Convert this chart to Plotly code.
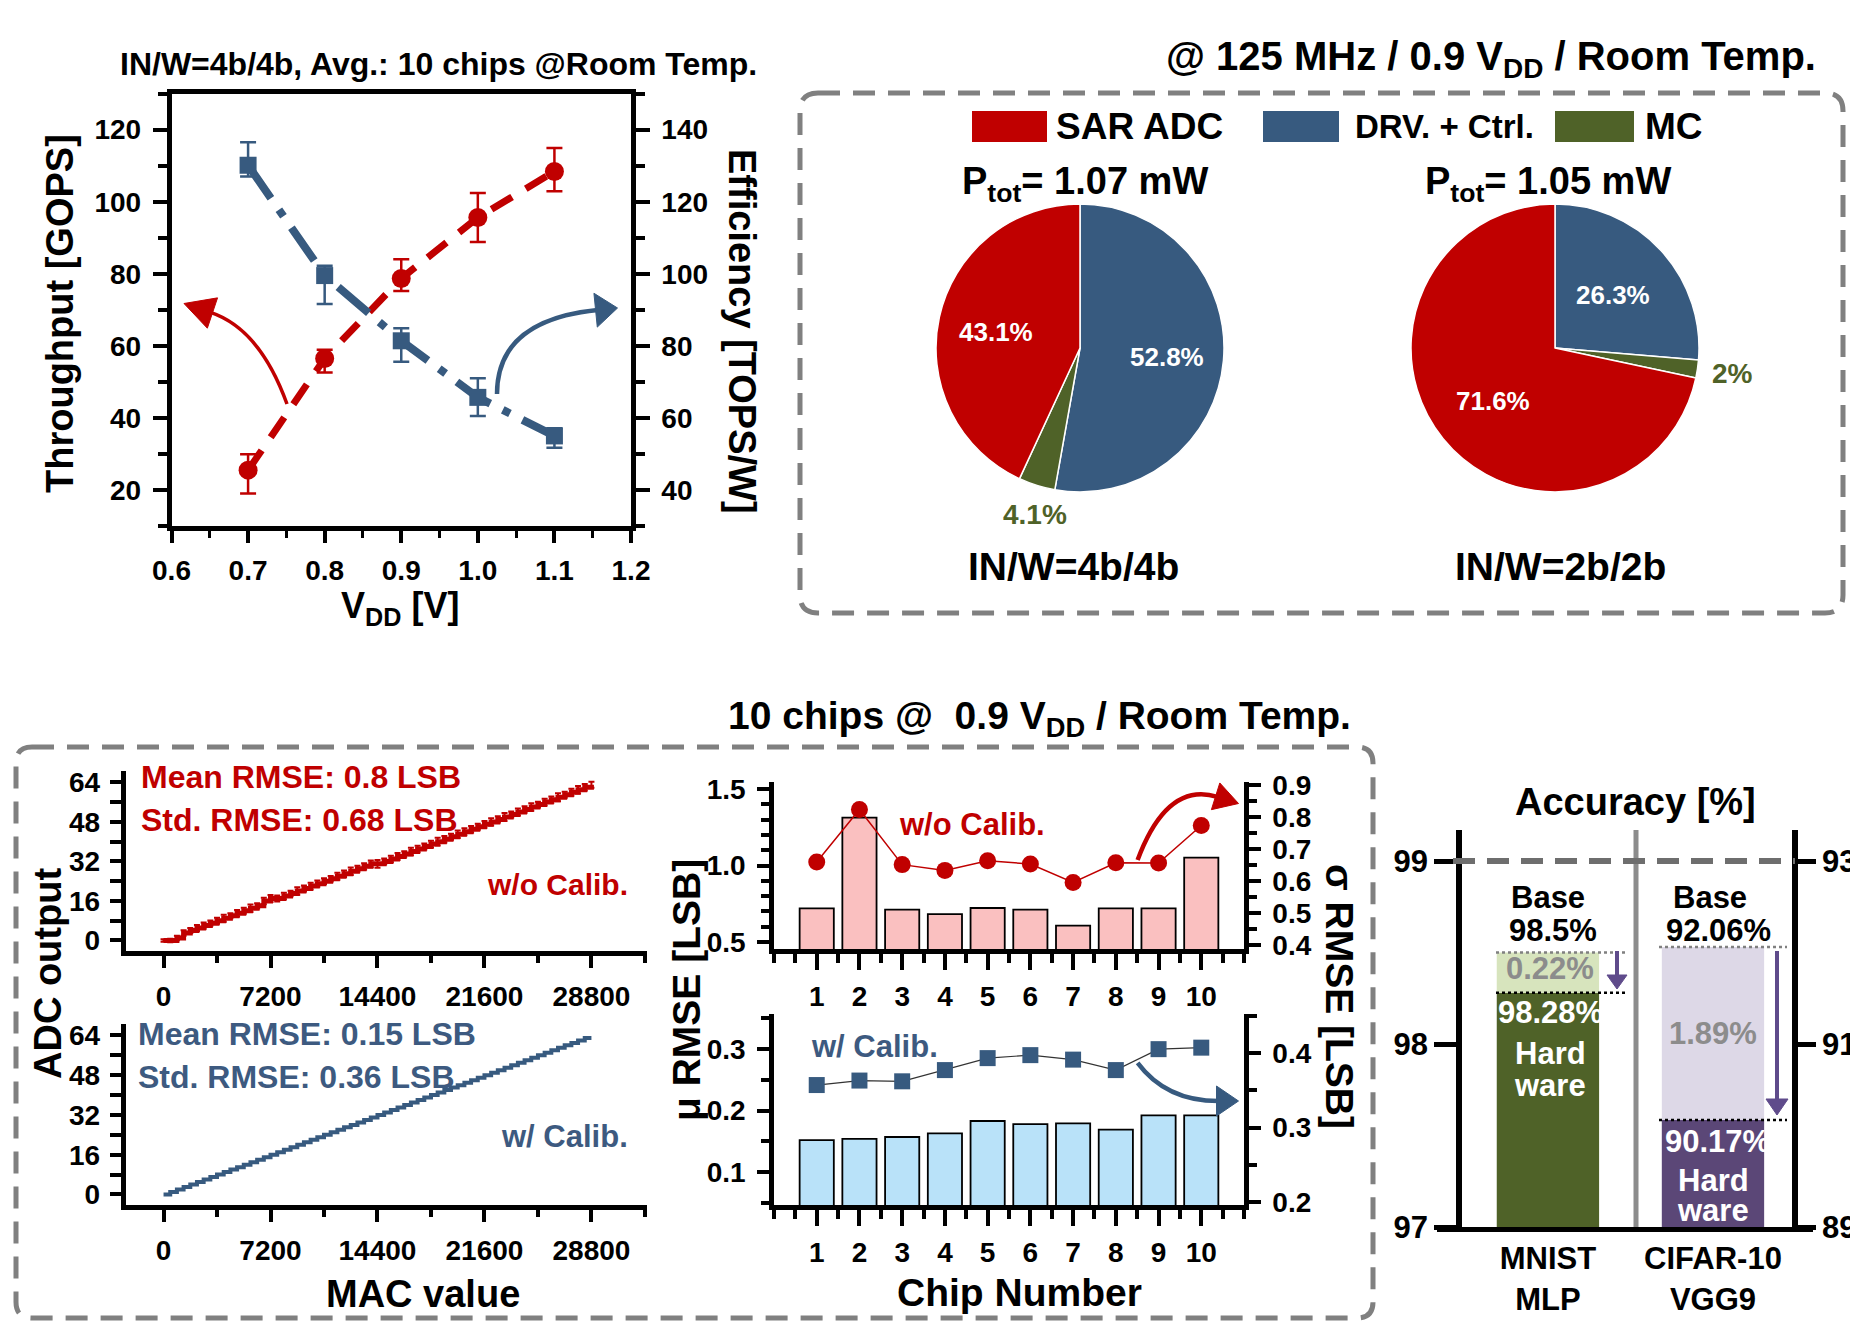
import math
import plotly.graph_objects as go

W, H = 1850, 1322
def px(x): return x / W
def py(y): return 1 - y / H

NARROW = "Liberation Sans, Arial, sans-serif"
REG = "Liberation Sans, Arial, sans-serif"

RED = "#C00000"
BLUE = "#375A7F"
GREEN = "#4F6228"
GRAY = "#808080"
PURPLE = "#5F4B8B"
TBLUE = "#3D5A80"

# ---------------- data ----------------
vdd = [0.7, 0.8, 0.9, 1.0, 1.1]
throughput = [25.5, 56.5, 78.7, 95.6, 108.4]
thr_err_plus = [4.4, 2.4, 5.3, 6.8, 6.5]
thr_err_minus = [6.5, 3.9, 3.5, 6.8, 5.5]
efficiency = [130.1, 99.5, 81.4, 65.7, 55.0]
eff_err_plus = [6.4, 2.7, 3.5, 5.3, 2.1]
eff_err_minus = [3.1, 7.9, 5.8, 5.2, 3.3]

power_labels = ["DRV. + Ctrl.", "MC", "SAR ADC"]
power_4b = [52.8, 4.1, 43.1]
power_2b = [26.3, 2.0, 71.6]

mac = [0, 450, 900, 1350, 1800, 2250, 2700, 3150, 3600, 4050, 4500, 4950, 5400, 5850,
       6300, 6750, 7200, 7650, 8100, 8550, 9000, 9450, 9900, 10350, 10800, 11250, 11700,
       12150, 12600, 13050, 13500, 13950, 14400, 14850, 15300, 15750, 16200, 16650, 17100,
       17550, 18000, 18450, 18900, 19350, 19800, 20250, 20700, 21150, 21600, 22050, 22500,
       22950, 23400, 23850, 24300, 24750, 25200, 25650, 26100, 26550, 27000, 27450, 27900,
       28350, 28800]
adc_wo = [0, 0, 1, 3, 4, 5, 6, 7, 8, 9, 10, 11, 12, 13, 14, 16, 17, 17, 18, 19,
          20, 21, 22, 23, 24, 25, 26, 27, 28, 29, 30, 31, 31, 32, 33, 34, 35, 36, 37, 38,
          39, 40, 41, 42, 43, 44, 45, 46, 47, 48, 49, 50, 51, 52, 53, 54, 55, 56, 57, 58,
          59, 60, 61, 62, 63]
adc_wo_err = [0.5, 0.7, 0.9, 1.1, 1.0, 1.2, 1.3, 1.1, 1.2, 1.4, 1.0, 1.3, 1.2, 1.5, 1.1, 1.3,
              1.4, 1.2, 1.3, 1.1, 1.5, 1.2, 1.4, 1.3, 1.2, 1.1, 1.4, 1.3, 1.5, 1.2, 1.3, 1.4,
              1.6, 1.2, 1.3, 1.4, 1.1, 1.5, 1.3, 1.2, 1.4, 1.6, 1.3, 1.2, 1.5, 1.4, 1.3, 1.2,
              1.4, 1.5, 1.3, 1.6, 1.2, 1.4, 1.3, 1.5, 1.2, 1.4, 1.3, 1.6, 1.2, 1.4, 1.5, 1.3, 1.2]
adc_w = [0, 1, 2, 3, 4, 5, 6, 7, 8, 9, 10, 11, 12, 13, 14, 15, 16, 17, 18, 19,
         20, 21, 22, 23, 24, 25, 26, 27, 28, 29, 30, 31, 32, 33, 34, 35, 36, 37, 38, 39,
         40, 41, 42, 43, 44, 45, 46, 47, 48, 49, 50, 51, 52, 53, 54, 55, 56, 57, 58, 59,
         60, 61, 62, 63, 63]

chips = [1, 2, 3, 4, 5, 6, 7, 8, 9, 10]
mu_wo = [0.719, 1.313, 0.711, 0.682, 0.722, 0.711, 0.607, 0.719, 0.719, 1.051]
sigma_wo = [0.659, 0.823, 0.651, 0.633, 0.663, 0.653, 0.595, 0.657, 0.656, 0.773]
mu_w = [0.152, 0.154, 0.157, 0.163, 0.183, 0.178, 0.179, 0.169, 0.192, 0.192]
sigma_w = [0.357, 0.363, 0.362, 0.377, 0.393, 0.397, 0.391, 0.377, 0.405, 0.407]

datasets = ["MNIST<br>MLP", "CIFAR-10<br>VGG9"]
acc_base = [98.5, 92.06]
acc_hw = [98.28, 90.17]

# ---------------- helpers ----------------
annots = []
shapes = []

def text(t, x, y, size, color="black", family=NARROW, xa="center", ya="middle", angle=0):
    annots.append(dict(text=t, x=px(x), y=py(y), xref="paper", yref="paper",
                       xanchor=xa, yanchor=ya, showarrow=False, textangle=angle,
                       font=dict(family=family, size=size, color=color, weight="bold")))

def pline(x0, y0, x1, y1, color, width, dash="solid"):
    shapes.append(dict(type="line", xref="paper", yref="paper", x0=px(x0), y0=py(y0),
                       x1=px(x1), y1=py(y1), line=dict(color=color, width=width, dash=dash)))

def rrect(x0, y0, x1, y1, r, color, width, dash):
    p = (f"M {px(x0+r)},{py(y0)} L {px(x1-r)},{py(y0)} Q {px(x1)},{py(y0)} {px(x1)},{py(y0+r)} "
         f"L {px(x1)},{py(y1-r)} Q {px(x1)},{py(y1)} {px(x1-r)},{py(y1)} "
         f"L {px(x0+r)},{py(y1)} Q {px(x0)},{py(y1)} {px(x0)},{py(y1-r)} "
         f"L {px(x0)},{py(y0+r)} Q {px(x0)},{py(y0)} {px(x0+r)},{py(y0)} Z")
    shapes.append(dict(type="path", xref="paper", yref="paper", path=p,
                       line=dict(color=color, width=width, dash=dash), fillcolor="rgba(0,0,0,0)"))

def arrow(p0, pc, tip, color, width, hl, hw):
    ux, uy = tip[0] - pc[0], tip[1] - pc[1]
    n = math.hypot(ux, uy)
    ux, uy = ux / n, uy / n
    bx, by = tip[0] - ux * hl, tip[1] - uy * hl
    path = f"M {px(p0[0])},{py(p0[1])} Q {px(pc[0])},{py(pc[1])} {px(bx + ux*2)},{py(by + uy*2)}"
    shapes.append(dict(type="path", xref="paper", yref="paper", path=path,
                       line=dict(color=color, width=width), fillcolor="rgba(0,0,0,0)"))
    nx, ny = -uy, ux
    h = (f"M {px(tip[0])},{py(tip[1])} L {px(bx + nx*hw/2)},{py(by + ny*hw/2)} "
         f"L {px(bx - nx*hw/2)},{py(by - ny*hw/2)} Z")
    shapes.append(dict(type="path", xref="paper", yref="paper", path=h,
                       line=dict(color=color, width=1), fillcolor=color))

def rect(x0, y0, x1, y1, color):
    shapes.append(dict(type="rect", xref="paper", yref="paper", x0=px(x0), y0=py(y1),
                       x1=px(x1), y1=py(y0), fillcolor=color, line=dict(width=0)))

def ax(**kw):
    d = dict(showline=True, linecolor="black", linewidth=4.5, ticks="outside", tickcolor="black",
             tickwidth=4, ticklen=12, showgrid=False, zeroline=False, fixedrange=True,
             automargin=False,
             tickfont=dict(family=NARROW, size=28, color="black", weight="bold"))
    d.update(kw)
    return d

fig = go.Figure()

# ---------------- top-left: throughput / efficiency ----------------
fig.add_trace(go.Scatter(
    x=vdd, y=throughput, mode="lines+markers", xaxis="x", yaxis="y",
    line=dict(color=RED, width=7, dash="24px,16px"),
    marker=dict(symbol="circle", size=19, color=RED),
    error_y=dict(type="data", symmetric=False, array=thr_err_plus, arrayminus=thr_err_minus,
                 color=RED, thickness=2.5, width=8), hoverinfo="skip"))
fig.add_trace(go.Scatter(
    x=vdd, y=efficiency, mode="lines+markers", xaxis="x", yaxis="y2",
    line=dict(color=BLUE, width=8, dash="40px,14px,8px,14px"),
    marker=dict(symbol="square", size=17, color=BLUE),
    error_y=dict(type="data", symmetric=False, array=eff_err_plus, arrayminus=eff_err_minus,
                 color=BLUE, thickness=2.5, width=8), hoverinfo="skip"))

# ---------------- pies ----------------
pie_colors = [BLUE, GREEN, RED]
for vals, (cx, cy) in [(power_4b, (1080, 348)), (power_2b, (1555, 348))]:
    r = 144
    fig.add_trace(go.Pie(values=vals, labels=power_labels, sort=False, direction="clockwise",
                         rotation=0, textinfo="none", hoverinfo="skip", showlegend=False,
                         marker=dict(colors=pie_colors, line=dict(color="white", width=1.5)),
                         domain=dict(x=[px(cx - r), px(cx + r)], y=[py(cy + r), py(cy - r)])))

# ---------------- ADC transfer ----------------
fig.add_trace(go.Scatter(x=mac, y=adc_wo, mode="lines", xaxis="x2", yaxis="y3",
                         line=dict(color=RED, width=5, shape="hv"),
                         error_y=dict(type="data", array=adc_wo_err, color=RED, thickness=2, width=3),
                         hoverinfo="skip"))
fig.add_trace(go.Scatter(x=mac, y=adc_w, mode="lines", xaxis="x3", yaxis="y4",
                         line=dict(color=BLUE, width=4, shape="hv"), hoverinfo="skip"))

# ---------------- RMSE per chip ----------------
fig.add_trace(go.Bar(x=chips, y=mu_wo, width=0.8, xaxis="x4", yaxis="y5",
                     marker=dict(color="#FAC0C0", line=dict(color="black", width=1.8)), hoverinfo="skip"))
fig.add_trace(go.Scatter(x=chips, y=sigma_wo, mode="lines+markers", xaxis="x4", yaxis="y6",
                         line=dict(color=RED, width=1.5), marker=dict(size=17, color=RED), hoverinfo="skip"))
fig.add_trace(go.Bar(x=chips, y=mu_w, width=0.8, xaxis="x5", yaxis="y7",
                     marker=dict(color="#B9E2F9", line=dict(color="black", width=1.8)), hoverinfo="skip"))
fig.add_trace(go.Scatter(x=chips, y=sigma_w, mode="lines+markers", xaxis="x5", yaxis="y8",
                         line=dict(color="#333333", width=1.2),
                         marker=dict(symbol="square", size=16, color=BLUE), hoverinfo="skip"))

# ---------------- accuracy ----------------
fig.add_trace(go.Bar(x=[datasets[0]], y=[acc_hw[0]], width=0.62, xaxis="x6", yaxis="y9",
                     marker=dict(color=GREEN, line=dict(width=0)), hoverinfo="skip"))
fig.add_trace(go.Bar(x=[datasets[0]], y=[acc_base[0] - acc_hw[0]], base=[acc_hw[0]], width=0.62,
                     xaxis="x6", yaxis="y9", marker=dict(color="#D7E4BD", line=dict(width=0)),
                     hoverinfo="skip"))
fig.add_trace(go.Bar(x=[datasets[1]], y=[acc_hw[1]], width=0.62, xaxis="x6", yaxis="y10",
                     marker=dict(color="#5B4777", line=dict(width=0)), hoverinfo="skip"))
fig.add_trace(go.Bar(x=[datasets[1]], y=[acc_base[1] - acc_hw[1]], base=[acc_hw[1]], width=0.62,
                     xaxis="x6", yaxis="y10", marker=dict(color="#DDD8E7", line=dict(width=0)),
                     hoverinfo="skip"))

# ---------------- axes ----------------
half_ticks = [0, 0.5, 1.5, 2.5, 3.5, 4.5, 5.5, 6.5, 7.5, 8.5, 9.5, 10.5, 11]
layout = dict(
    width=W, height=H, margin=dict(l=0, r=0, t=0, b=0, pad=0, autoexpand=False), autosize=False,
    paper_bgcolor="white", plot_bgcolor="white", showlegend=False, barmode="overlay",
    # top-left
    xaxis=ax(domain=[px(171.5), px(631)], range=[0.6, 1.2], anchor="y", mirror=True,
             tick0=0.6, dtick=0.1, tickformat=".1f", ticklabelstandoff=4,
             minor=dict(ticks="outside", ticklen=7, tickwidth=3, dtick=0.05, tick0=0.6)),
    yaxis=ax(domain=[py(526), py(93.6)], range=[10, 130], anchor="x", tick0=0, dtick=20,
             ticklen=14, ticklabelstandoff=6,
             minor=dict(ticks="outside", ticklen=9, tickwidth=3.5, dtick=10, tick0=0)),
    yaxis2=ax(domain=[py(526), py(93.6)], range=[30, 150], anchor="x", overlaying="y", side="right",
              tick0=0, dtick=20, ticklen=14, ticklabelstandoff=6,
              minor=dict(ticks="outside", ticklen=9, tickwidth=3.5, dtick=10, tick0=0)),
    # ADC top
    xaxis2=ax(domain=[px(125.5), px(647)], range=[-2560, 32540], anchor="y3", tick0=0, dtick=7200,
              tickformat="d", ticklen=12, ticklabelstandoff=4,
              minor=dict(ticks="outside", ticklen=7, tickwidth=3.5, dtick=3600, tick0=0)),
    yaxis3=ax(domain=[py(951.3), py(771)], range=[-4.4, 68.6], anchor="x2", tick0=0, dtick=16,
              ticklen=11, ticklabelstandoff=4,
              minor=dict(ticks="outside", ticklen=11, tickwidth=3.5, dtick=8, tick0=0)),
    # ADC bottom
    xaxis3=ax(domain=[px(125.5), px(647)], range=[-2560, 32540], anchor="y4", tick0=0, dtick=7200,
              tickformat="d", ticklen=12, ticklabelstandoff=4,
              minor=dict(ticks="outside", ticklen=7, tickwidth=3.5, dtick=3600, tick0=0)),
    yaxis4=ax(domain=[py(1205.4), py(1024)], range=[-4.4, 68.6], anchor="x3", tick0=0, dtick=16,
              ticklen=11, ticklabelstandoff=4,
              minor=dict(ticks="outside", ticklen=11, tickwidth=3.5, dtick=8, tick0=0)),
    # RMSE top
    xaxis4=ax(domain=[px(774), px(1244)], range=[0, 11], anchor="y5", tickvals=chips,
              ticktext=[str(c) for c in chips], ticklen=16, ticklabelstandoff=3,
              minor=dict(ticks="outside", ticklen=9, tickwidth=4, tickvals=half_ticks)),
    yaxis5=ax(domain=[py(949), py(782)], range=[0.454, 1.546], anchor="x4",
              tickvals=[0.5, 1.0, 1.5], ticktext=["0.5", "1.0", "1.5"], ticklen=12, ticklabelstandoff=6,
              minor=dict(ticks="outside", ticklen=8, tickwidth=3.5, dtick=0.1, tick0=0)),
    yaxis6=ax(domain=[py(949), py(782)], range=[0.3875, 0.909], anchor="x4", overlaying="y5",
              side="right", tickvals=[0.4, 0.5, 0.6, 0.7, 0.8, 0.9],
              ticktext=["0.4", "0.5", "0.6", "0.7", "0.8", "0.9"], ticklen=12, ticklabelstandoff=6,
              minor=dict(ticks="outside", ticklen=8, tickwidth=3.5, dtick=0.05, tick0=0)),
    # RMSE bottom
    xaxis5=ax(domain=[px(774), px(1244)], range=[0, 11], anchor="y7", tickvals=chips,
              ticktext=[str(c) for c in chips], ticklen=16, ticklabelstandoff=3,
              minor=dict(ticks="outside", ticklen=9, tickwidth=4, tickvals=half_ticks)),
    yaxis7=ax(domain=[py(1205), py(1014)], range=[0.0464, 0.357], anchor="x5",
              tickvals=[0.1, 0.2, 0.3], ticktext=["0.1", "0.2", "0.3"], ticklen=12, ticklabelstandoff=6,
              minor=dict(ticks="outside", ticklen=8, tickwidth=3.5, dtick=0.05, tick0=0)),
    yaxis8=ax(domain=[py(1205), py(1014)], range=[0.1966, 0.452], anchor="x5", overlaying="y7",
              side="right", tickvals=[0.2, 0.3, 0.4], ticktext=["0.2", "0.3", "0.4"], ticklen=12,
              ticklabelstandoff=6,
              minor=dict(ticks="outside", ticklen=8, tickwidth=3.5, dtick=0.05, tick0=0)),
    # accuracy
    xaxis6=ax(domain=[px(1437), px(1813)], range=[-0.672, 1.606], anchor="y9", type="category",
              categoryorder="array", categoryarray=datasets, ticks="", linewidth=5,
              ticklabelstandoff=0, tickfont=dict(family=REG, size=31, color="black", weight="bold")),
    yaxis9=ax(domain=[py(1227), py(830)], range=[97, 99.17], anchor="free", position=px(1459),
              tickvals=[97, 98, 99], ticklen=22, tickwidth=5, linewidth=5.5, ticklabelstandoff=0,
              tickfont=dict(family=REG, size=31, color="black", weight="bold")),
    yaxis10=ax(domain=[py(1227), py(830)], range=[89, 93.34], anchor="free", position=px(1795),
               overlaying="y9", side="right", tickvals=[89, 91, 93], ticklen=18, tickwidth=5,
               linewidth=5.5, ticklabelstandoff=0,
               tickfont=dict(family=REG, size=31, color="black", weight="bold")),
)

# ---------------- decorations & texts ----------------
# top-left
text("IN/W=4b/4b, Avg.: 10 chips @Room Temp.", 438, 64, 32)
text("Throughput [GOPS]", 60, 314, 38, family=REG, angle=-90)
text("Efficiency [TOPS/W]", 742, 331, 38, family=REG, angle=90)
text("V<sub>DD</sub> [V]", 400, 608, 36)
arrow((287, 404), (260, 329), (184, 303.5), RED, 3.5, 30, 32)
arrow((497, 394), (497, 320), (617.5, 308), BLUE, 4.5, 22, 34)

# top-right (power)
text("@ 125 MHz / 0.9 V<sub>DD</sub> / Room Temp.", 1818, 59, 40, xa="right")
rrect(800, 93, 1843, 613, 18, GRAY, 5, "22px,13px")
rect(972, 111, 1047, 142, RED)
rect(1263, 111, 1339, 142, BLUE)
rect(1555, 111, 1634, 142, GREEN)
text("SAR ADC", 1054, 126, 37, xa="left")
text("DRV. + Ctrl.", 1353, 126, 33, xa="left")
text("MC", 1643, 126, 37, xa="left")
text("P<sub>tot</sub>= 1.07 mW", 1085, 184, 38)
text("P<sub>tot</sub>= 1.05 mW", 1548, 184, 38)
text("43.1%", 996, 332, 26, color="white")
text("52.8%", 1167, 357, 26, color="white")
text("4.1%", 1035, 514, 28, color=GREEN)
text("26.3%", 1613, 295, 26, color="white")
text("71.6%", 1493, 401, 26, color="white")
text("2%", 1732, 373, 28, color=GREEN)
text("IN/W=4b/4b", 1073, 566, 39)
text("IN/W=2b/2b", 1560, 566, 39)

# bottom box
text("10 chips @  0.9 V<sub>DD</sub> / Room Temp.", 1039, 718, 39, family=REG)
rrect(16, 747, 1373, 1318, 16, GRAY, 5, "22px,13px")

# ADC
text("Mean RMSE: 0.8 LSB", 139, 777, 32, color=RED, xa="left")
text("Std. RMSE: 0.68 LSB", 139, 820, 32, color=RED, xa="left")
text("w/o Calib.", 630, 884, 30, color=RED, xa="right")
text("Mean RMSE: 0.15 LSB", 136, 1034, 32, color=TBLUE, xa="left")
text("Std. RMSE: 0.36 LSB", 136, 1077, 32, color=TBLUE, xa="left")
text("w/ Calib.", 630, 1136, 31, color=TBLUE, xa="right")
text("ADC output", 48, 974, 38, family=REG, angle=-90)
text("MAC value", 423, 1294, 38, family=REG)

# RMSE
text("w/o Calib.", 972, 824, 31, color=RED)
text("w/ Calib.", 874, 1046, 31, color=TBLUE)
text("μ RMSE [LSB]", 686, 990, 39, family=REG, angle=-90)
text("σ RMSE [LSB]", 1340, 996, 39, family=REG, angle=90)
text("Chip Number", 1019, 1292, 39, family=REG)
arrow((1137.6, 860), (1167, 781), (1238.5, 803.5), RED, 4.5, 24, 28)
arrow((1137.6, 1062.8), (1166, 1101), (1238.5, 1101), BLUE, 4.5, 22, 30)

# accuracy
text("Accuracy [%]", 1635, 802, 38, family=REG)
pline(1636, 830, 1636, 1227, "#8C8C8C", 5)
shapes.append(dict(type="line", xref="paper", yref="y9", x0=px(1453), x1=px(1795), y0=99, y1=99,
                   line=dict(color="#6E6E6E", width=6, dash="22px,12px")))
shapes.append(dict(type="line", xref="paper", yref="y9", x0=px(1496), x1=px(1625),
                   y0=acc_base[0], y1=acc_base[0], line=dict(color=GRAY, width=2.5, dash="dot")))
shapes.append(dict(type="line", xref="paper", yref="y9", x0=px(1496), x1=px(1625),
                   y0=acc_hw[0], y1=acc_hw[0], line=dict(color="black", width=2.5, dash="dot")))
shapes.append(dict(type="line", xref="paper", yref="y10", x0=px(1659), x1=px(1787),
                   y0=acc_base[1], y1=acc_base[1], line=dict(color=GRAY, width=2.5, dash="dot")))
shapes.append(dict(type="line", xref="paper", yref="y10", x0=px(1659), x1=px(1787),
                   y0=acc_hw[1], y1=acc_hw[1], line=dict(color="black", width=2.5, dash="dot")))
arrow((1617, 951), (1617, 970), (1617, 989), PURPLE, 4, 14, 20)
arrow((1777, 951), (1777, 1030), (1777, 1115), PURPLE, 4, 16, 22)
text("Base", 1548, 897, 31, family=REG)
text("98.5%", 1553, 930, 31, family=REG)
text("0.22%", 1550, 968, 31, color="#8C8C8C", family=REG)
text("98.28%", 1550, 1012, 31, color="white", family=REG)
text("Hard", 1550, 1053, 31, color="white", family=REG)
text("ware", 1550, 1085, 31, color="white", family=REG)
text("Base", 1710, 897, 31, family=REG)
text("92.06%", 1718, 930, 31, family=REG)
text("1.89%", 1713, 1033, 31, color="#8C8C8C", family=REG)
text("90.17%", 1717, 1141, 31, color="white", family=REG)
text("Hard", 1713, 1180, 31, color="white", family=REG)
text("ware", 1713, 1210, 31, color="white", family=REG)

layout["annotations"] = annots
layout["shapes"] = shapes
fig.update_layout(**layout)

fig.write_html("out.html", config={"displayModeBar": False},
               post_script="document.body.style.margin='0';document.body.style.padding='0';document.body.style.overflow='hidden';")
